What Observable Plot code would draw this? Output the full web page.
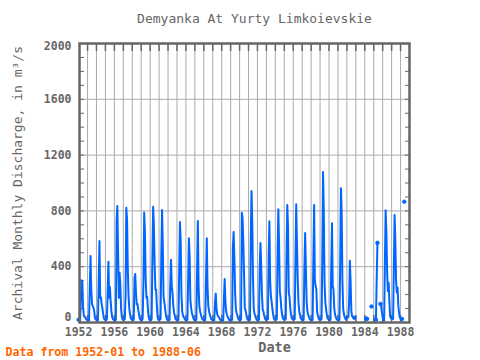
<!DOCTYPE html>
<html>
<head>
<meta charset="utf-8">
<script src="https://cdn.jsdelivr.net/npm/d3@7"></script>
<script src="https://cdn.jsdelivr.net/npm/@observablehq/plot@0.6"></script>
<style>
  html, body { margin: 0; padding: 0; background: #fff; }
</style>
</head>
<body>
<div id="chart"></div>
<script>
// Monthly discharge (m3/s), Jan..Dec, null = missing
const years = [1952,1953,1954,1955,1956,1957,1958,1959,1960,1961,1962,1963,1964,1965,1966,1967,1968,1969,1970,1971,1972,1973,1974,1975,1976,1977,1978,1979,1980,1981,1982,1983,1984,1985,1986,1987,1988];
const q1952 = [20, 16, 15, 160, 302, 290, 110, 50, 40, 38, 25, 20];
const q1953 = [18, 15, 14, 261, 477, 237, 134, 117, 105, 80, 30, 22];
const q1954 = [20, 16, 15, 316, 585, 177, 180, 130, 100, 60, 28, 22];
const q1955 = [20, 16, 25, 237, 436, 177, 254, 153, 80, 40, 25, 20];
const q1956 = [18, 15, 20, 728, 836, 500, 177, 357, 273, 100, 40, 22];
const q1957 = [22, 18, 25, 190, 822, 740, 393, 190, 100, 60, 30, 25];
const q1958 = [20, 16, 20, 321, 347, 213, 130, 134, 90, 60, 30, 20];
const q1959 = [20, 15, 30, 300, 788, 644, 309, 177, 185, 100, 40, 20];
const q1960 = [20, 15, 25, 453, 829, 704, 417, 237, 237, 120, 40, 20];
const q1961 = [25, 20, 25, 493, 807, 541, 182, 150, 100, 60, 30, 20];
const q1962 = [20, 15, 20, 273, 450, 261, 213, 125, 74, 50, 25, 20];
const q1963 = [20, 15, 20, 374, 721, 580, 200, 80, 50, 40, 30, 20];
const q1964 = [20, 15, 20, 309, 604, 470, 158, 105, 70, 50, 30, 20];
const q1965 = [20, 15, 20, 381, 728, 261, 117, 81, 60, 40, 25, 20];
const q1966 = [20, 15, 20, 326, 604, 261, 120, 81, 60, 40, 25, 20];
const q1967 = [15, 12, 15, 141, 208, 100, 60, 45, 40, 30, 20, 15];
const q1968 = [15, 12, 15, 177, 311, 150, 80, 57, 40, 30, 20, 15];
const q1969 = [20, 15, 20, 537, 648, 465, 213, 98, 70, 50, 30, 20];
const q1970 = [20, 15, 25, 786, 752, 577, 350, 101, 90, 60, 30, 20];
const q1971 = [20, 15, 20, 600, 943, 728, 321, 100, 62, 50, 30, 20];
const q1972 = [20, 15, 20, 400, 570, 417, 200, 93, 80, 50, 30, 20];
const q1973 = [25, 20, 25, 484, 726, 300, 190, 150, 100, 60, 30, 20];
const q1974 = [25, 20, 25, 508, 812, 560, 225, 177, 100, 60, 30, 25];
const q1975 = [25, 20, 25, 500, 843, 685, 218, 180, 100, 60, 30, 25];
const q1976 = [25, 20, 25, 453, 848, 560, 309, 150, 81, 60, 30, 25];
const q1977 = [20, 15, 20, 405, 642, 374, 150, 80, 57, 40, 25, 20];
const q1978 = [20, 15, 20, 441, 843, 300, 261, 237, 80, 50, 30, 20];
const q1979 = [25, 20, 25, 453, 1078, 800, 285, 150, 100, 60, 30, 25];
const q1980 = [20, 15, 20, 405, 711, 261, 237, 105, 60, 40, 25, 20];
const q1981 = [20, 15, 20, 429, 963, 795, 300, 100, 60, 40, 25, 20];
const q1982 = [40, 35, 40, 150, 443, 292, 80, 45, 40, 38, 34, null];
const q1983 = [null, null, null, null, null, null, null, null, null, null, null, null];
const q1984 = [null, null, 28, 26, null, null, null, null, null, 115, null, null];
const q1985 = [null, null, null, 20, 321, 571, null, null, null, 133, 113, 73];
const q1986 = [38, 14, 15, 441, 805, 644, 357, 225, 285, 150, 45, 30];
const q1987 = [30, 25, 25, 400, 771, 584, 300, 213, 249, 120, 70, 35];
const q1988 = [30, 28, 25, null, null, 866];
const series = [q1952,q1953,q1954,q1955,q1956,q1957,q1958,q1959,q1960,q1961,q1962,q1963,q1964,q1965,q1966,q1967,q1968,q1969,q1970,q1971,q1972,q1973,q1974,q1975,q1976,q1977,q1978,q1979,q1980,q1981,q1982,q1983,q1984,q1985,q1986,q1987,q1988];
const xTickLabels = [1952, 1956, 1960, 1964, 1968, 1972, 1976, 1980, 1984, 1988];
const yTickLabels = [0, 400, 800, 1200, 1600, 2000];

const rows = [];
years.forEach((yr, i) => {
  series[i].forEach((v, m) => rows.push({t: yr + m / 12, q: v}));
});
const isDef = r => r && r.q != null;
const edges = rows.filter((r, i) => isDef(r) && (!isDef(rows[i - 1]) || !isDef(rows[i + 1])));

const gray = "#666";
const font = "DejaVu Sans Mono";
const yearGrid = years.slice(1);
const minorY = d3.range(0, 2001, 100);
const fmt = d => String(d);

const chart = Plot.plot({
  width: 480,
  height: 360,
  marginLeft: 79,
  marginRight: 71,
  marginTop: 43,
  marginBottom: 38,
  style: {fontFamily: font, fontSize: "11.5px", fontWeight: "bold", color: gray, background: "#fff"},
  x: {domain: [1952.1, 1989.0], label: null},
  y: {domain: [0, 2000], label: null},
  marks: [
    Plot.gridX({ticks: yearGrid, stroke: "#aaa", strokeOpacity: 1, strokeWidth: 1}),
    Plot.gridY({ticks: yTickLabels.slice(1, 5), stroke: "#aaa", strokeOpacity: 1, strokeWidth: 1}),
    Plot.axisX({ticks: yearGrid, anchor: "top", tickSize: -7, tickFormat: () => "", label: null, stroke: gray, strokeWidth: 1.5}),
    Plot.axisX({ticks: yearGrid, anchor: "bottom", tickSize: -7, tickFormat: () => "", label: null, stroke: gray, strokeWidth: 1.5}),
    Plot.axisX({ticks: xTickLabels, anchor: "bottom", tickSize: 0, tickPadding: 5, tickFormat: fmt, label: null}),
    Plot.axisY({ticks: minorY, anchor: "left", tickSize: -5, tickFormat: () => "", label: null, stroke: gray}),
    Plot.axisY({ticks: minorY, anchor: "right", tickSize: -5, tickFormat: () => "", label: null, stroke: gray}),
    Plot.axisY({ticks: yTickLabels.slice(1, 5), anchor: "left", tickSize: 0, tickPadding: 8, tickFormat: fmt, label: null}),
    Plot.axisY({ticks: [yTickLabels[0]], anchor: "left", tickSize: 0, tickPadding: 8, tickFormat: fmt, dy: -5, label: null}),
    Plot.axisY({ticks: [yTickLabels[5]], anchor: "left", tickSize: 0, tickPadding: 8, tickFormat: fmt, dy: 3, label: null}),
    Plot.line(rows, {x: "t", y: "q", stroke: "#0066ff", strokeWidth: 2}),
    Plot.dot(edges, {x: "t", y: "q", r: 1.8, fill: "#0066ff", stroke: "#0066ff", strokeWidth: 0.8}),
    Plot.frame({stroke: gray, strokeWidth: 2.5}),
    Plot.text(["Demyanka At Yurty Limkoievskie"], {text: d => d, frameAnchor: "top", lineAnchor: "middle", dx: 10, dy: -25, fontSize: 13, fontWeight: "normal", fill: gray}),
    Plot.text(["Archival Monthly Discharge, in m³/s"], {text: d => d, frameAnchor: "left", textAnchor: "middle", lineAnchor: "middle", rotate: -90, dx: -62, fontSize: 13, fontWeight: "normal", fill: gray}),
    Plot.text(["Date"], {text: d => d, frameAnchor: "bottom", lineAnchor: "middle", dx: 30, dy: 25, fontSize: 13.5, fontWeight: "bold", fill: gray}),
    Plot.text(["Data from 1952-01 to 1988-06"], {text: d => d, frameAnchor: "bottom-left", textAnchor: "start", lineAnchor: "middle", dx: -74, dy: 30, fontSize: 11.6, fontWeight: "bold", fill: "#ff6600"})
  ]
});
document.getElementById("chart").appendChild(chart);
</script>
</body>
</html>
